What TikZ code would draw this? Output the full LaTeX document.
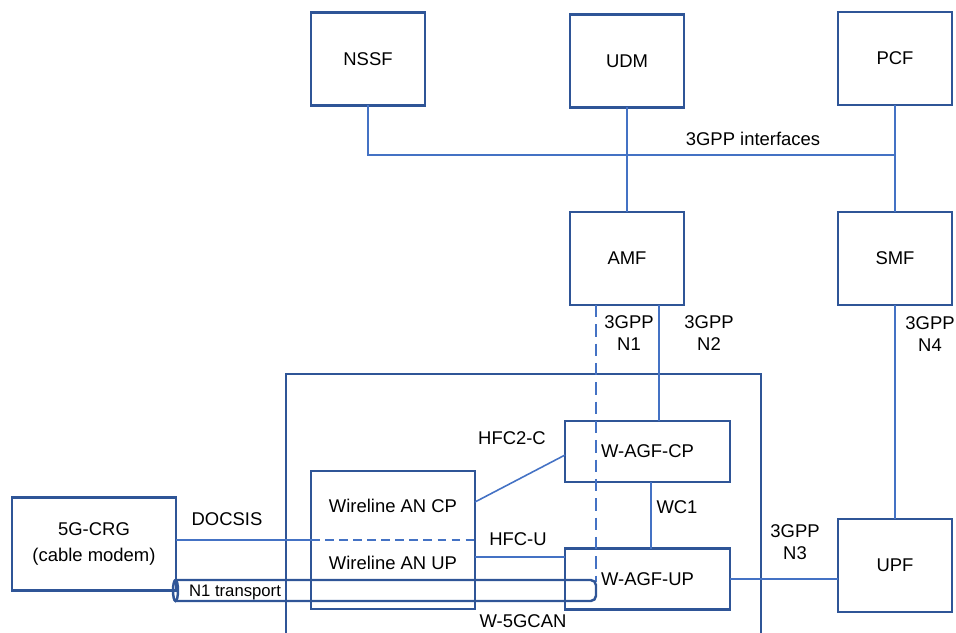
\documentclass[tikz,border=0pt]{standalone}
\usepackage{fontspec}
\setmainfont{Liberation Sans}
\definecolor{boxblue}{RGB}{47,85,151}
\definecolor{lineblue}{RGB}{68,114,196}
\tikzset{
  nf/.style={draw=boxblue,line width=1.4pt,inner sep=0pt,outer sep=0pt,
    minimum width=2.28cm,minimum height=1.86cm,font=\fontsize{10.5}{12.6}\selectfont,align=center},
  agf/.style={nf,minimum width=3.3cm,minimum height=1.22cm},
  lbl/.style={font=\fontsize{10.5}{12.6}\selectfont,align=center,inner sep=0pt},
  link/.style={draw=lineblue,line width=0.9pt}
}
\def\dlink{\draw[link]}

\begin{document}
\begin{tikzpicture}[x=0.02cm,y=-0.02cm]
  \useasboundingbox (0,0) rectangle (956,632);
  \clip (0,0) rectangle (956,632);
  % core network functions
  \node[nf] (nssf) at (368,59) {NSSF};
  \node[nf] (udm) at (627,61) {UDM};
  \node[nf] (pcf) at (895,58.5) {PCF};
  \node[nf] (amf) at (627,258.5) {AMF};
  \node[nf] (smf) at (895,258.5) {SMF};
  \node[nf] (upf) at (895,565.5) {UPF};
  \node[nf,minimum width=3.28cm,font=\fontsize{10.5}{15}\selectfont] (crg) at (94,544) {5G-CRG\\(cable modem)};
  % access network
  \draw[draw=boxblue,line width=1.4pt] (286,374) rectangle (761,660);
  \node[nf,minimum width=3.28cm,minimum height=2.76cm] (wan) at (393,540) {};
  \node[lbl] (wancp) at (393,506) {Wireline AN CP};
  \node[lbl] (wanup) at (393,563) {Wireline AN UP};
  \node[agf] (agfcp) at (647.5,451.5) {W-AGF-CP};
  \node[agf] (agfup) at (647.5,579) {W-AGF-UP};
  \coordinate (bus) at (895,155);
  % interfaces
  \dlink (nssf.south) |- (bus);
  \dlink (pcf.south) -- (smf.north);
  \dlink (udm.south) -- (amf.north);
  \dlink (smf.south) -- (upf.north);
  \dlink (amf.south -| 659,0) -- (agfcp.north -| 659,0);
  \dlink[dashed,dash pattern=on 7pt off 4pt] (amf.south -| 596,0) -- (596,582);
  \dlink (agfcp.south -| 651,0) -- (agfup.north -| 651,0);
  \dlink (crg.east |- wan.west) -- (wan.west);
  \dlink[dashed,dash pattern=on 5pt off 3pt] (wan.west) -- (wan.east);
  \dlink (wan.east |- 0,502) -- (agfcp.west |- 0,455);
  \dlink (wan.east |- 0,557) -- (agfup.west |- 0,557);
  \dlink (agfup.east) -- (agfup.east -| upf.west);
  % N1 transport tube
  \draw[draw=boxblue,line width=1.4pt,rounded corners=3pt] (175,580) -- (596,580) -- (596,601) -- (175,601);
  \draw[draw=boxblue,line width=1.4pt] (175.5,590.5) ellipse [x radius=2.5, y radius=10.5];
  % labels
  \node[lbl] (lif) at (753,139) {3GPP interfaces};
  \node[lbl] (ln1) at (629,333) {3GPP\\N1};
  \node[lbl] (ln2) at (709,333) {3GPP\\N2};
  \node[lbl] (ln4) at (930,334) {3GPP\\N4};
  \node[lbl] (ln3) at (795,542) {3GPP\\N3};
  \node[lbl] (lhfc2) at (512,438) {HFC2-C};
  \node[lbl] (lwc1) at (677,507) {WC1};
  \node[lbl] (lhfcu) at (518,539) {HFC-U};
  \node[lbl] (ldoc) at (227,519) {DOCSIS};
  \node[lbl,font=\fontsize{9.5}{11}\selectfont] (ln1t) at (235,592) {N1 transport};
  \node[lbl] (lcan) at (523,621) {W-5GCAN};
\end{tikzpicture}
\end{document}
